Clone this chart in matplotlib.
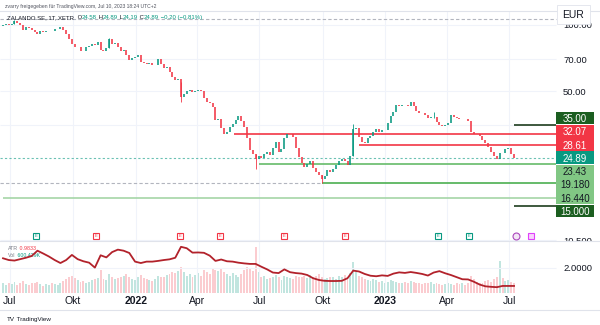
import numpy as np
import pandas as pd
import matplotlib.pyplot as plt
from matplotlib.lines import Line2D
from matplotlib.patches import Rectangle
from matplotlib.transforms import blended_transform_factory

plt.rcParams["font.family"] = ["Liberation Sans", "DejaVu Sans"]

UP = "#089981"
DOWN = "#f23645"
INK = "#131722"
MUTED = "#787b86"
GRID = "#f0f3fa"
LINE = "#e0e3eb"
W, H = 600, 325

# Zalando SE (XETR), one close every third session, 22 Jun 2021 - 10 Jul 2023
closes = [
    100, 100.5, 99.8, 101.5, 104, 102.5, 100, 95, 97.5, 96.8,
    94.5, 92.5, 91, 93.5, 92.5, 93.5, 94, 93.6, 95.5, 96,
    97.5, 94.5, 90.5, 86.5, 82, 79, 79.6, 76.5, 76, 79.5,
    80.5, 81.5, 81, 84, 77, 76, 78.5, 86, 82, 82.6,
    79, 76.5, 77.2, 73, 69, 70.5, 71.5, 73, 68, 67,
    66.5, 67, 65.6, 66, 70, 66.5, 63.5, 64.2, 61, 58,
    56, 57, 47, 48.5, 50, 50.5, 49.5, 50, 50.5, 50.2,
    46.5, 44.5, 44, 42.5, 37, 37.5, 34, 31.8, 32.5, 34.5,
    35.6, 37, 38.5, 36.5, 34.5, 30.5, 27, 25.8, 24.5, 25.3,
    24.8, 26, 26.6, 25.6, 27.5, 29.3, 26.5, 27.2, 30.5, 32,
    32.1, 31, 27.5, 25, 23.5, 22.7, 23.3, 24, 22.3, 21.5,
    20.8, 19.9, 20.6, 21.9, 21.5, 22.2, 23.1, 24, 24.6, 24.2,
    23.2, 25.5, 33.5, 34, 31, 29.4, 29, 30.6, 31.2, 32.5,
    33.5, 32.5, 33.2, 33.3, 36, 38.5, 40.2, 43.2, 42.8, 43.5,
    43.2, 43, 44.8, 43, 40.5, 40, 39.6, 39, 37.6, 38,
    38.3, 36.3, 35, 34.6, 35, 36, 38.9, 38.3, 37.6, 37.3,
    37.5, 37.4, 36.5, 32.6, 32.1, 31.8, 31.2, 30, 29, 28,
    26.6, 25.4, 24.7, 26.3, 26.1, 27.3, 27.6, 26, 24.89,
]
FIRST_OPEN = 99.0

# million shares, same sessions as closes
volumes = [
    1.1, 0.9, 1.2, 1.0, 1.3, 0.9, 1.1, 1.4, 1.0, 0.9,
    1.2, 1.1, 1.3, 1.0, 0.8, 1.0, 0.9, 1.1, 1.0, 0.9,
    1.2, 1.4, 1.6, 1.8, 2.0, 1.7, 1.5, 1.3, 1.4, 1.2,
    1.3, 1.5, 1.6, 1.7, 2.7, 1.6, 1.5, 2.2, 1.8, 1.6,
    1.7, 1.9, 2.0, 2.2, 1.8, 1.6, 1.5, 1.9, 2.1, 1.7,
    1.6, 1.5, 1.4, 1.6, 2.0, 1.8, 1.9, 2.1, 2.2, 2.4,
    2.3, 2.5, 3.0, 2.4, 2.0, 2.2, 1.9, 2.1, 2.3, 2.0,
    2.6, 2.4, 2.2, 2.8, 2.6, 2.5, 2.9, 2.4, 2.2, 2.0,
    2.3, 2.1, 1.9, 2.2, 2.6, 3.0, 2.8, 2.5, 5.3, 2.4,
    1.8, 2.0, 1.6, 1.7, 1.9, 2.1, 1.8, 1.5, 2.0, 1.9,
    1.7, 1.6, 2.0, 1.8, 1.9, 2.0, 1.7, 2.1, 1.9, 2.0,
    2.2, 1.8, 1.6, 1.7, 1.8, 1.9, 1.6, 2.0, 1.8, 2.1,
    1.9, 2.3, 3.6, 2.4, 2.0, 1.8, 1.6, 1.5, 1.4, 1.6,
    1.5, 1.3, 1.4, 1.2, 1.3, 1.5, 1.4, 1.3, 1.2, 1.1,
    1.3, 1.2, 1.4, 1.3, 1.2, 1.1, 1.0, 1.2, 1.1, 1.3,
    1.0, 1.1, 1.0, 0.9, 1.0, 1.1, 1.0, 0.9, 1.2, 1.0,
    1.1, 0.9, 1.2, 2.0, 1.6, 1.3, 1.2, 1.1, 1.4, 1.5,
    1.3, 1.6, 1.8, 3.7, 1.7, 1.4, 1.5, 1.3, 1.2,
]

# ATR(14), every sixth session
atr = [
    2.55, 2.45, 2.42, 2.50, 2.58, 2.68, 2.98, 2.82, 2.65, 2.45,
    2.28, 2.45, 2.74, 2.50, 2.38, 2.30, 2.02, 2.72, 2.60, 2.90,
    3.04, 2.98, 2.85, 2.36, 2.28, 2.36, 2.36, 2.40, 2.45, 2.49,
    2.58, 3.20, 3.12, 2.87, 2.88, 2.86, 2.70, 2.40, 2.48, 2.38,
    2.36, 2.30, 2.26, 2.23, 2.23, 2.07, 1.92, 1.74, 1.71, 1.92,
    1.76, 1.71, 1.68, 1.60, 1.42, 1.32, 1.27, 1.26, 1.26, 1.27,
    1.42, 1.85, 1.80, 1.66, 1.56, 1.53, 1.58, 1.55, 1.68, 1.75,
    1.72, 1.77, 1.72, 1.66, 1.57, 1.74, 1.82, 1.70, 1.60, 1.48,
    1.36, 1.35, 1.22, 1.06, 0.96, 0.93, 0.91, 0.98, 0.98, 0.98,
]

# sessions with long wicks: sample index, low, high
wick_idx = [4, 37, 62, 88, 111, 122, 150]
wick_low = [101.5, 78.5, 44.7, 22.2, 19.18, 25.5, 37.6]
wick_high = [105.5, 87.5, 55.0, 25.8, 20.8, 35.6, 40.2]

# drawn price levels
levels = [35.00, 32.07, 28.61, 24.89, 23.43, 19.18, 16.44, 15.00]
level_labels = ["35.00", "32.07", "28.61", "24.89", "23.43", "19.180", "16.440", "15.000"]
level_from = ["2023-07-10", "2022-05-25", "2022-11-24", "2021-06-22",
              "2022-07-01", "2022-09-30", "2021-06-22", "2023-07-10"]
level_colors = ["#1e3d1e", DOWN, DOWN, UP, "#66bb6a", "#4caf50", "#a5d6a7", "#1e3d1e"]
box_colors = ["#1b5e20", DOWN, DOWN, UP, "#81c784", "#81c784", "#81c784", "#1b5e20"]
box_text = ["white", "white", "white", "white", INK, INK, INK, "white"]
LAST_PRICE = 24.89
guide_levels = [106.0, 19.18]
guide_until = [None, "2022-09-30"]

earnings = ["2021-08-10", "2021-11-04", "2022-03-08", "2022-05-05",
            "2022-08-08", "2022-11-03", "2023-03-21", "2023-05-04"]
earnings_beat = [True, False, False, False, False, False, True, True]
next_dividend = "2023-07-12"
next_earnings = "2023-08-03"

grid_prices = [100, 70, 50, 35, 10.5]
price_ticks = [100, 70, 50, 10.5]
price_tick_labels = ["100.00", "70.00", "50.00", "10.500"]
month_starts = ["2021-07-01", "2021-10-01", "2022-01-03", "2022-04-01", "2022-07-01",
                "2022-10-03", "2023-01-02", "2023-04-03", "2023-07-03"]
month_labels = ["Jul", "Okt", "2022", "Apr", "Jul", "Okt", "2023", "Apr", "Jul"]

sessions = pd.bdate_range("2021-06-22", "2023-09-29")


def pos(day):
    return sessions.searchsorted(pd.Timestamp(day))


def to_x(px):
    # screen pixel -> session index (about 0.957 px per session)
    return (px - 3) / 0.957


X0, X1, EDGE = to_x(0), to_x(W), to_x(556)

x = np.arange(len(closes)) * 3
c = np.array(closes, dtype=float)
o = np.r_[FIRST_OPEN, c[:-1]]
up = c >= o
colors = np.where(up, UP, DOWN)

fig = plt.figure(figsize=(W / 100, H / 100), dpi=100)
ax = fig.add_axes([0, 1 - 241 / H, 1, 230 / H])
bax = fig.add_axes([0, 1 - 293 / H, 1, 52 / H], sharex=ax)
vax = bax.twinx()

ax.set_yscale("log")
ax.set_ylim(10.43, 115.7)
ax.set_xlim(X0, X1)
for a in (ax, bax, vax):
    a.yaxis.set_major_locator(plt.NullLocator())
    a.yaxis.set_minor_locator(plt.NullLocator())
    for s in a.spines.values():
        s.set_visible(False)
for a in (ax, bax):
    a.spines["top"].set_visible(True)
    a.spines["top"].set_color(LINE)
    a.spines["top"].set_linewidth(0.8)
ax.tick_params(axis="x", length=0, labelbottom=False)

# grid
month_x = [pos(d) for d in month_starts]
for mx in month_x:
    ax.axvline(mx, color=GRID, lw=0.8, zorder=0)
    bax.axvline(mx, color=GRID, lw=0.8, zorder=0)
ax.hlines(grid_prices, X0, EDGE, colors=GRID, lw=0.8, zorder=0)

# candles
ax.vlines(x, np.minimum(o, c), np.maximum(o, c), colors=colors, lw=1.15, zorder=3)
ax.vlines(x[wick_idx], wick_low, wick_high, colors=colors[wick_idx], lw=0.6, zorder=3)

# levels
for lv, until in zip(guide_levels, guide_until):
    ax.hlines(lv, X0, EDGE if until is None else pos(until),
              colors="#b2b5be", lw=0.8, linestyles=(0, (3, 2)), zorder=1)
for lv, frm, col in zip(levels, level_from, level_colors):
    if lv == LAST_PRICE:
        ax.hlines(lv, X0, EDGE, colors=col, lw=0.8, alpha=0.6,
                  linestyles=(0, (2, 2)), zorder=2)
    else:
        ax.hlines(lv, pos(frm), EDGE, colors=col, lw=1.2, zorder=2)

# event flags along the bottom of the price pane
flag_t = blended_transform_factory(ax.transData, ax.transAxes)
for d, beat in zip(earnings, earnings_beat):
    col = UP if beat else DOWN
    ax.plot(pos(d), 0.022, marker="s", ms=5, mfc="white", mec=col, mew=0.8,
            transform=flag_t, clip_on=False, zorder=5)
    ax.text(pos(d), 0.022, "E", color=col, fontsize=3, ha="center",
            va="center", transform=flag_t, zorder=6)
ax.plot(pos(next_dividend), 0.022, marker="o", ms=5, mfc="#f3e5f5", mec="#ab47bc",
        mew=0.8, transform=flag_t, zorder=5)
ax.plot(pos(next_earnings), 0.022, marker="s", ms=5, mfc="#f8d3fb", mec="#e040fb",
        mew=0.8, transform=flag_t, zorder=5)

# price scale
scale_t = blended_transform_factory(ax.transAxes, ax.transData)
for v, lab in zip(price_ticks, price_tick_labels):
    ax.text(563 / W, v, lab, transform=scale_t, fontsize=6.8, color=INK,
            va="center_baseline", clip_on=True)

ys = np.array([H - ax.transData.transform((0, v))[1] for v in levels])
ci = levels.index(LAST_PRICE)
centers = ys[ci] + (np.arange(len(levels)) - ci) * 13.3
for cy, lab, fc, tc in zip(centers, level_labels, box_colors, box_text):
    fig.add_artist(Rectangle((556 / W, 1 - (cy + 6.4) / H), 38 / W, 12.8 / H,
                             transform=fig.transFigure, facecolor=fc,
                             edgecolor="none", zorder=4))
    fig.text(575 / W, 1 - cy / H, lab, ha="center", va="center_baseline",
             fontsize=7, color=tc, zorder=5)

# currency box
fig.add_artist(Rectangle((557 / W, 1 - 24 / H), 33 / W, 19 / H, transform=fig.transFigure,
                         facecolor="white", edgecolor=LINE, lw=0.6, zorder=4))
fig.text(573 / W, 1 - 14 / H, "EUR", ha="center", va="center_baseline",
         fontsize=7.5, color=INK, zorder=5)

# lower pane: volume + ATR
vax.bar(x, volumes, width=2, color=colors, alpha=0.25, lw=0)
vax.set_ylim(0, 6)
bax.set_zorder(vax.get_zorder() + 1)
bax.patch.set_visible(False)
bax.plot(x[::2], atr, color="#b2222b", lw=1.3)
bax.set_ylim(0.58, 3.53)
bax.hlines(2.0, X0, EDGE, colors=GRID, lw=0.8, zorder=0)
btrans = blended_transform_factory(bax.transAxes, bax.transData)
bax.text(563 / W, 2.0, "2.0000", transform=btrans, fontsize=6.8, color=INK,
         va="center_baseline")

bax.set_xticks(month_x)
bax.set_xticklabels(month_labels)
bax.tick_params(axis="x", length=0, pad=2.5, labelsize=7.5, colors=INK)
vax.tick_params(axis="x", length=0)
for t in bax.get_xticklabels():
    if t.get_text().isdigit():
        t.set_fontweight("bold")


def chain_text(px, py, parts, size):
    prev = fig.text(px / W, 1 - py / H, parts[0][0], color=parts[0][1],
                    fontsize=size, va="center_baseline", zorder=6)
    for s, col in parts[1:]:
        prev = ax.annotate(s, xy=(1, 0), xycoords=prev, va="bottom", ha="left",
                           color=col, fontsize=size, annotation_clip=False, zorder=6)


fig.text(5 / W, 1 - 6 / H, "zvarry freigegeben für TradingView.com, Jul 10, 2023 18:24 UTC+2",
         fontsize=3.6, color="#50535e", va="center_baseline")
chain_text(7, 17, [("ZALANDO SE, 1T, XETR ", INK), (" O", INK), ("24.58", UP),
                   (" H", INK), ("24.89", UP), (" L", INK), ("24.19", UP),
                   (" C", INK), ("24.89", UP), (" \u22120.20 (\u22120.81%)", UP)], 4.3)
chain_text(8, 248, [("ATR", MUTED), (" 0.9833", DOWN)], 3.8)
chain_text(8, 255, [("Vol", MUTED), (" 600.429K", UP)], 3.8)
chain_text(7, 319, [("TV", INK), (" TradingView", INK)], 4.5)

fig.add_artist(Line2D([0, 1], [1 - 310 / H] * 2, color=LINE, lw=0.8))

fig.savefig("out.png", dpi=100, facecolor="white")
